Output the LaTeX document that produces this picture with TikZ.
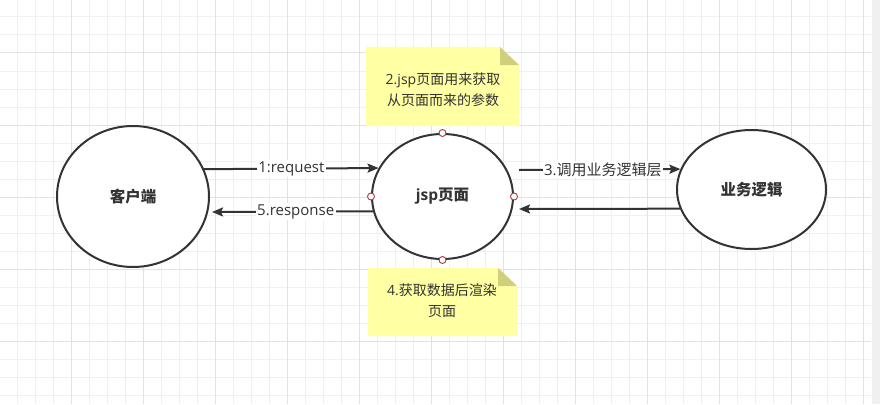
\documentclass[tikz,border=0pt]{standalone}
\usepackage{fontspec}
\setmainfont{Open Sans}
\newfontfamily\cjk{Noto Sans CJK SC}
\usetikzlibrary{arrows.meta,shapes.geometric}
\definecolor{ink}{HTML}{333333}
\definecolor{gridminor}{HTML}{F0F0F0}
\definecolor{gridmajor}{HTML}{E2E2E2}
\definecolor{notefill}{HTML}{FFFFA3}
\definecolor{notefold}{HTML}{CFCF7C}
\definecolor{pin}{HTML}{B03A3A}
\tikzset{
  bubble/.style={ellipse, draw=ink, line width=2pt, fill=white, inner sep=0pt, font=\fontsize{15.5}{18}\selectfont\bfseries, text=ink},
  flow/.style={draw=ink, line width=2pt, -{Stealth[length=11pt,width=9pt,inset=2pt]}},
  flowlabel/.style={fill=white, inner sep=1.5pt, text=ink, font=\fontsize{15}{18}\selectfont},
  notetext/.style={text=ink, align=center, font=\fontsize{14}{21}\selectfont},
  pinmark/.style={circle, draw=pin, fill=white, line width=0.9pt, minimum size=7pt, inner sep=0pt}
}
\begin{document}
\begin{tikzpicture}[x=1pt,y=-1pt]
\useasboundingbox (0,0) rectangle (880,404);
\fill[white] (0,0) rectangle (880,404);
% grid
\foreach \x in {-1,17,...,871} \draw[gridminor, line width=1pt] (\x,0) -- (\x,404);
\foreach \y in {-1,17,...,404} \draw[gridminor, line width=1pt] (0,\y) -- (871,\y);
\foreach \x in {71,143,...,871} \draw[gridmajor, line width=1pt] (\x,0) -- (\x,404);
\foreach \y in {53,125,...,404} \draw[gridmajor, line width=1pt] (0,\y) -- (871,\y);
\fill[gridminor] (871.5,0) rectangle (880,404);

% nodes
\node[bubble, minimum width=152pt, minimum height=141pt] (client) at (133,196.5) {\cjk 客户端};
\node[bubble, minimum width=141pt, minimum height=125pt] (jsp) at (442.5,196.5) {jsp{\cjk 页面}};
\node[bubble, minimum width=149pt, minimum height=119pt] (biz) at (751.5,189.5) {\cjk 业务逻辑};

% notes
\fill[notefill] (366,47) -- (500,47) -- (519,65) -- (519,126) -- (366,126) -- cycle;
\fill[notefold] (500,47) -- (519,65) -- (500,65) -- cycle;
\node[notetext] (note1) at (443,89.5) {2.jsp{\cjk 页面用来获取}\\{\cjk 从页面而来的参数}};

\fill[notefill] (368,268) -- (498,268) -- (517,286) -- (517,336) -- (368,336) -- cycle;
\fill[notefold] (498,268) -- (517,286) -- (498,286) -- cycle;
\node[notetext] (note2) at (442,301) {4.{\cjk 获取数据后渲染}\\{\cjk 页面}};

% connection points on jsp
\node[pinmark] (pt) at (jsp.north) {};
\node[pinmark] (pb) at (jsp.south) {};
\node[pinmark] (pl) at (jsp.west) {};
\node[pinmark] (pr) at (jsp.east) {};

% free ends
\coordinate (respEnd) at (212,212);
\coordinate (callStart) at (519,170);
\coordinate (backEnd) at (519,209);

% connectors
\draw[flow] (client.21.4) -- node[flowlabel] {1:request} (jsp.156.5);
\draw[flow] (jsp.192.8) -- node[flowlabel, pos=0.48] {5.response} (respEnd);
\draw[flow] (callStart) -- node[flowlabel, pos=0.52] {3.{\cjk 调用业务逻辑层}} (biz.164.5);
\draw[flow] (biz.195.5) -- (backEnd);
\end{tikzpicture}
\end{document}
